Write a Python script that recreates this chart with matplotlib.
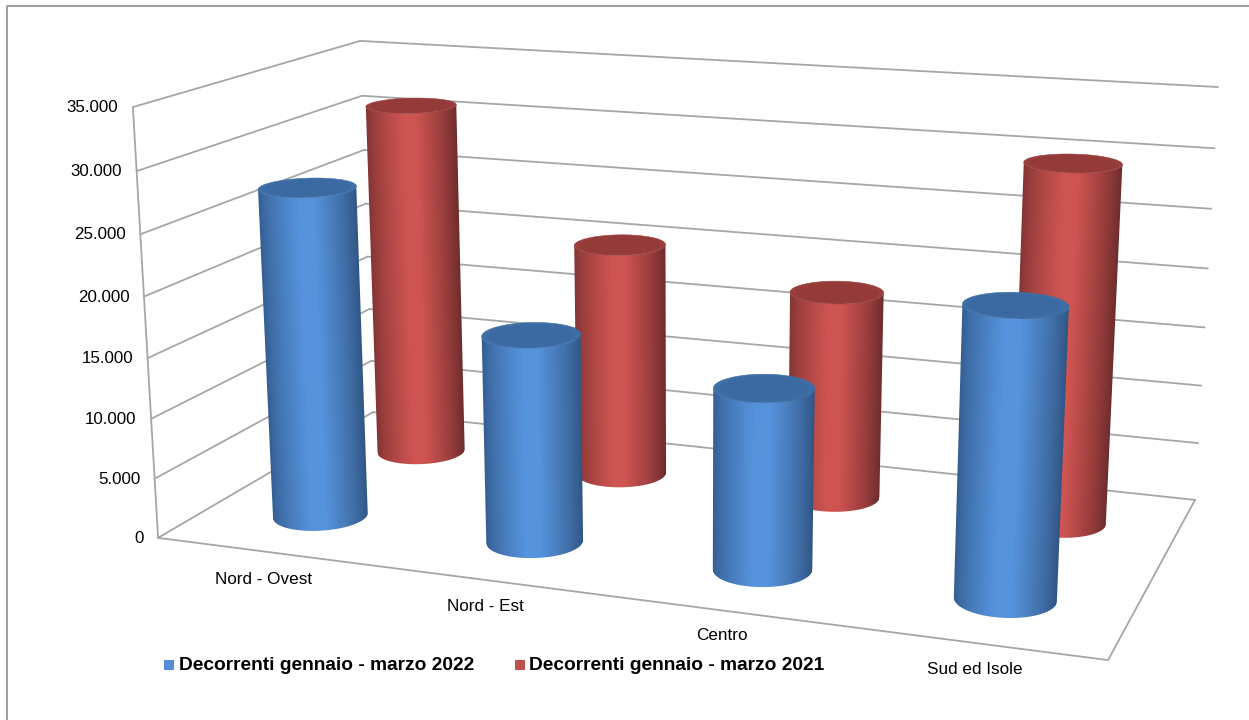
import numpy as np
import matplotlib

matplotlib.use("Agg")
import matplotlib.pyplot as plt

plt.rcParams["font.family"] = ["Liberation Sans", "DejaVu Sans"]

CATEGORIES = ["Nord - Ovest", "Nord - Est", "Centro", "Sud ed Isole"]
SERIES_NAMES = ["Decorrenti gennaio - marzo 2022", "Decorrenti gennaio - marzo 2021"]
VALUES_2022 = [27550, 17100, 14630, 22780]
VALUES_2021 = [31150, 20320, 17770, 29850]
Y_TICKS = [0, 5000, 10000, 15000, 20000, 25000, 30000, 35000]
Y_MAX = 35000

GRID = "#a6a6a6"
BLUE = dict(mid=(0.34, 0.58, 0.87), left=(0.20, 0.36, 0.56), right=(0.19, 0.33, 0.51), top="#3e6ea6", inner="#3b6aa3", key="#558ed5")
RED = dict(mid=(0.81, 0.33, 0.32), left=(0.50, 0.20, 0.20), right=(0.42, 0.17, 0.17), top="#983e3c", inner="#943b39", key="#c0504d")

# chart box corners as seen on screen: (category pos, depth, height) -> pixel
CORNERS = [
    ((0, 0, 0), (158, 538)), ((0, 0, 1), (133, 107)),
    ((0, 1, 0), (373, 412)), ((0, 1, 1), (360, 41)),
    ((1, 0, 0), (1108, 660)), ((1, 1, 0), (1195, 500)),
    ((1, 1, 1), (1218, 87)),
]


def fit_camera(corners):
    # plain DLT, p34 fixed to 1
    rows, rhs = [], []
    for (X, Y, Z), (px, py) in corners:
        rows.append([X, Y, Z, 1, 0, 0, 0, 0, -px * X, -px * Y, -px * Z])
        rows.append([0, 0, 0, 0, X, Y, Z, 1, -py * X, -py * Y, -py * Z])
        rhs += [px, py]
    p = np.linalg.lstsq(np.array(rows, float), np.array(rhs, float), rcond=None)[0]
    return np.append(p, 1.0).reshape(3, 4)


CAM = fit_camera(CORNERS)


def project(u, v, w):
    u, v, w = np.broadcast_arrays(u, v, w)
    q = CAM @ np.stack([u, v, w, np.ones_like(u, dtype=float)]).astype(float)
    return q[0] / q[2], q[1] / q[2]


def segment(ax, a, b, lw=1.3):
    xa, ya = project(*a)
    xb, yb = project(*b)
    ax.plot([xa, xb], [ya, yb], color=GRID, lw=lw, solid_capstyle="round", zorder=1)


def shade(t, pal):
    # dark at the two edges, flat light band in the middle
    k_left = np.clip(t / 0.42, 0, 1) ** 0.7
    k_right = np.clip((1 - t) / 0.45, 0, 1) ** 0.8
    out = np.zeros(t.shape + (3,))
    for i in range(3):
        left = pal["left"][i] + (pal["mid"][i] - pal["left"][i]) * k_left
        right = pal["right"][i] + (pal["mid"][i] - pal["right"][i]) * k_right
        out[..., i] = np.where(t < 0.42, left, right)
    return out


def front_arc(x, y):
    il, ir = int(np.argmin(x[:-1])), int(np.argmax(x[:-1]))
    idx = np.arange(il, ir + 1 if ir > il else ir + 241) % 240
    return x[idx], y[idx]


def cylinder(ax, u0, v0, value, pal, zorder):
    h = value / Y_MAX
    th = np.linspace(0, 2 * np.pi, 241)
    cu = u0 + RU * np.cos(th)
    cv = v0 + RV * np.sin(th)
    bx, by = front_arc(*project(cu, cv, 0))
    tx, ty = front_arc(*project(cu, cv, h))

    # one RGBA pixel per figure pixel, alpha is edge coverage so the sides stay smooth
    x0, x1 = int(min(bx.min(), tx.min())) - 2, int(max(bx.max(), tx.max())) + 3
    y0, y1 = int(min(ty.min(), by.min())) - 2, int(max(ty.max(), by.max())) + 3
    xx, yy = np.meshgrid(np.arange(x0, x1) + 0.5, np.arange(y0, y1) + 0.5)
    s = (yy - ty[0]) / (by[0] - ty[0])
    xl = tx[0] + (bx[0] - tx[0]) * s
    xr = tx[-1] + (bx[-1] - tx[-1]) * s
    t = np.clip((xx - xl) / (xr - xl), 0, 1)
    alpha = (np.clip(xx - xl + 0.5, 0, 1) * np.clip(xr - xx + 0.5, 0, 1)
             * np.clip(np.interp(xx, bx, by) - yy + 0.5, 0, 1)
             * np.clip(yy - np.interp(xx, tx, ty) + 0.5, 0, 1))
    ax.imshow(np.dstack([shade(t, pal), alpha]), extent=(x0, x1, y1, y0), origin="upper",
              interpolation="nearest", aspect="auto", zorder=zorder)

    fx, fy = project(cu, cv, h)
    ax.fill(fx, fy, color=pal["top"], lw=0.4, zorder=zorder + 0.1)
    ix, iy = project(u0 + 0.88 * RU * np.cos(th), v0 + 0.88 * RV * np.sin(th), h)
    ax.fill(ix, iy, color=pal["inner"], lw=0, zorder=zorder + 0.2)


RU = 0.05
RV = 0.105
U_POS = [0.125, 0.375, 0.625, 0.875]
V_POS = {"blue": 0.25, "red": 0.75}
LABEL_DY = [32.5, 31, 30, 31]

fig = plt.figure(figsize=(12.49, 7.2), dpi=100)
ax = fig.add_axes([0, 0, 1, 1])

# outer frame
ax.plot([7, 7, 1249], [720, 6, 6], color="#a0a0a0", lw=1.4)

for val in Y_TICKS:
    w = val / Y_MAX
    segment(ax, (0, 0, w), (0, 1, w))
    segment(ax, (0, 1, w), (1, 1, w))
    x, y = project(0, 0, w)
    ax.text(float(x) - 14.5, float(y) + 0.5, f"{val:,}".replace(",", "."), ha="right", va="center", fontsize=12.2, color="black")
segment(ax, (0, 0, 0), (0, 0, 1))
segment(ax, (0, 0, 0), (1, 0, 0))
segment(ax, (1, 0, 0), (1, 1, 0))

for i, cat in enumerate(CATEGORIES):
    x, y = project(U_POS[i], 0, 0)
    ax.text(float(x), float(y) + LABEL_DY[i], cat, ha="center", va="baseline", fontsize=12.3, color="black")

for i in range(4):
    cylinder(ax, U_POS[i], V_POS["red"], VALUES_2021[i], RED, 5 + i)
for i in range(4):
    cylinder(ax, U_POS[i], V_POS["blue"], VALUES_2022[i], BLUE, 15 + i)

# legend
for x0, tx0, name, pal in [(164, 179, SERIES_NAMES[0], BLUE), (515, 529, SERIES_NAMES[1], RED)]:
    ax.fill([x0, x0 + 10, x0 + 10, x0], [660, 660, 670, 670], color=pal["key"], lw=0, zorder=30)
    ax.text(tx0, 670.5, name, ha="left", va="baseline", fontsize=13.75, fontweight="bold", color="black", zorder=30)

ax.set_xlim(0, 1249)
ax.set_ylim(720, 0)
ax.axis("off")

fig.savefig("out.png", dpi=100)
